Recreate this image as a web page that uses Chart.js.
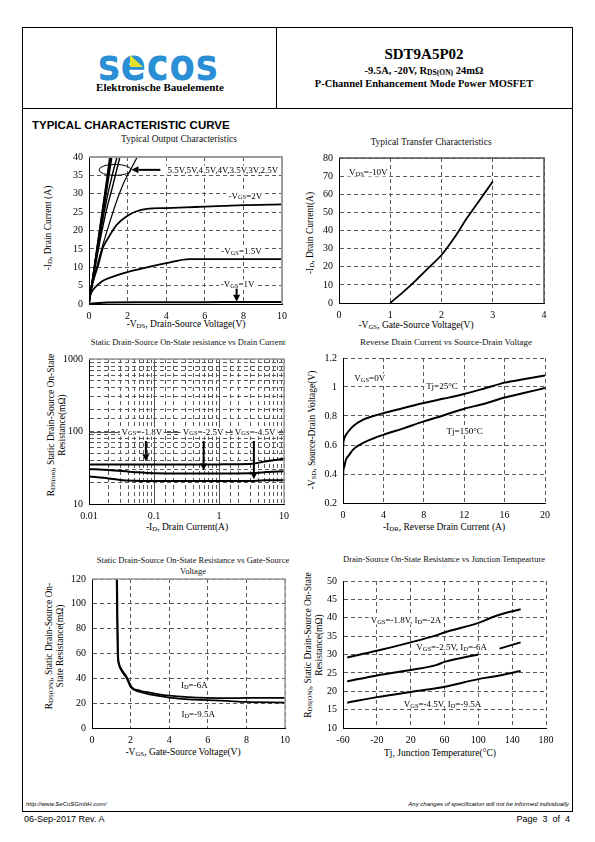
<!DOCTYPE html>
<html><head><meta charset="utf-8">
<script src="https://cdn.jsdelivr.net/npm/chart.js@4.4.1/dist/chart.umd.min.js"></script>
<style>
body{margin:0;width:595px;height:842px;position:relative;background:#fff;font-family:"Liberation Serif","Times New Roman",serif;color:#000;overflow:hidden}
.abs{position:absolute;white-space:nowrap;line-height:1}
.c{transform:translate(-50%,-50%)}
.rot{transform:translate(-50%,-50%) rotate(-90deg);text-align:center;line-height:1.2}
canvas{position:absolute}
sub{font-size:0.72em;vertical-align:baseline;position:relative;top:0.12em}
.t{font-size:9.5px;color:#111}
.al{font-size:9.5px}
.an{font-size:9px}
.bg{background:#fff;padding:0 2px}
.hr{position:absolute;background:#000}
</style></head><body>

<!-- page frame -->
<div class="hr" style="left:22px;top:27px;width:551px;height:1px"></div>
<div class="hr" style="left:22px;top:27px;width:1px;height:785px"></div>
<div class="hr" style="left:572px;top:27px;width:1px;height:785px"></div>
<div class="hr" style="left:22px;top:811px;width:551px;height:1px"></div>
<div class="hr" style="left:22px;top:108px;width:551px;height:1px"></div>
<div class="hr" style="left:276px;top:27px;width:1px;height:81px"></div>

<!-- header -->
<div class="abs" style="left:98px;top:43px;font:bold 44px 'DejaVu Sans';line-height:44px;color:#2b8fd5;letter-spacing:1px;transform:scaleX(0.84);transform-origin:left top">secos</div>
<div class="abs" style="left:130px;top:55px;width:13px;height:12px;background:#e4e02c;clip-path:polygon(0 0,100% 100%,0 100%)"></div>
<div class="abs c" style="left:160px;top:87px;font-weight:bold;font-size:11px">Elektronische Bauelemente</div>
<div class="abs c" style="left:424px;top:54px;font-weight:bold;font-size:15px">SDT9A5P02</div>
<div class="abs c" style="left:424px;top:71px;font-weight:bold;font-size:10.5px">-9.5A, -20V, R<sub>DS(ON)</sub> 24mΩ</div>
<div class="abs c" style="left:424px;top:84px;font-weight:bold;font-size:10.5px">P-Channel Enhancement Mode Power MOSFET</div>

<div class="abs" style="left:32px;top:119px;font:bold 11.5px 'Liberation Sans';">TYPICAL CHARACTERISTIC CURVE</div>

<!-- titles -->
<div class="abs c t" style="left:179px;top:140px">Typical Output Characteristics</div>
<div class="abs c t" style="left:431px;top:143px">Typical Transfer Characteristics</div>
<div class="abs c t" style="left:188px;top:342px;font-size:8.5px">Static Drain-Source On-State resistance vs Drain Current</div>
<div class="abs c t" style="left:446px;top:342px;font-size:9px">Reverse Drain Current vs Source-Drain Voltage</div>
<div class="abs c t" style="left:193px;top:566px;font-size:8.5px;text-align:center;line-height:1.25">Static Drain-Source On-State Resistance vs Gate-Source<br>Voltage</div>
<div class="abs c t" style="left:444px;top:559px;font-size:8.5px">Drain-Source On-State Resistance vs Junction Tempearture</div>

<!-- axis labels -->
<div class="abs rot al" style="left:49px;top:228px">-I<sub>D</sub>, Drain Current (A)</div>
<div class="abs c al" style="left:186px;top:325px">-V<sub>DS</sub>, Drain-Source Voltage(V)</div>
<div class="abs rot al" style="left:311px;top:233px">-I<sub>D</sub>, Drain Current(A)</div>
<div class="abs c al" style="left:416px;top:326px">-V<sub>GS</sub>, Gate-Source Voltage(V)</div>
<div class="abs rot al" style="left:57px;top:425px">R<sub>DS(on)</sub>, Static Drain-Source On-State<br>Resistance(mΩ)</div>
<div class="abs c al" style="left:187px;top:528px">-I<sub>D</sub>, Drain Current(A)</div>
<div class="abs rot al" style="left:313px;top:430px">-V<sub>SD</sub>, Source-Drain Voltage(V)</div>
<div class="abs c al" style="left:444px;top:528px">-I<sub>DR</sub>, Reverse Drain Current (A)</div>
<div class="abs rot al" style="left:55px;top:646px">R<sub>DS(ON)</sub>, Static Drain-Source On-<br>State Resistance(mΩ)</div>
<div class="abs c al" style="left:183px;top:753px">-V<sub>GS</sub>, Gate-Source Voltage(V)</div>
<div class="abs rot al" style="left:314px;top:645px">R<sub>DS(ON)</sub>, Static Drain-Source On-State<br>Resistance(mΩ)</div>
<div class="abs c al" style="left:440px;top:754px">Tj, Junction Temperature(°C)</div>

<!-- footer -->
<div class="abs" style="left:26px;top:801px;font:italic 6px 'Liberation Sans'">http://www.SeCoSGmbH.com/</div>
<div class="abs" style="right:25px;top:801px;font:italic 6px 'Liberation Sans'">Any changes of specification will not be informed individually.</div>
<div class="abs" style="left:24px;top:814px;font:9px 'Liberation Sans'">06-Sep-2017 Rev. A</div>
<div class="abs" style="right:25px;top:814px;font:9px 'Liberation Sans'">Page &nbsp;3 &nbsp;of &nbsp;4</div>

<script>
// ===== DATA =====
// Chart 1: Typical Output Characteristics (-VDS in V, -ID in A)
const outLabels = ['5.5V','5V','4.5V','4V','3.5V','3V','2.5V','2V','1.5V','1V'];
const out55_x = [0, 0.3, 0.6, 0.9, 1.08];           const out55_y = [0, 11, 22, 33, 40];
const out50_x = [0, 0.3, 0.6, 0.9, 1.11];           const out50_y = [0, 10.8, 21.6, 32.4, 40];
const out45_x = [0, 0.3, 0.6, 0.9, 1.14];           const out45_y = [0, 10.5, 21, 31.5, 40];
const out40_x = [0, 0.3, 0.6, 0.9, 1.18];           const out40_y = [0, 10.3, 20.5, 30.5, 40];
const out35_x = [0, 0.3, 0.6, 0.9, 1.2, 1.45];      const out35_y = [0.5, 10, 19.5, 28, 35, 40];
const out30_x = [0, 0.3, 0.6, 0.9, 1.2, 1.6];       const out30_y = [1, 9.5, 18, 25.5, 31.5, 40];
const out25_x = [0, 0.3, 0.6, 1.0, 1.4, 1.8, 2.1, 2.5]; const out25_y = [1.5, 8, 14, 21, 27.5, 33, 36, 40];
const out20_x = [0, 0.2, 0.5, 0.72, 1.0, 1.43, 2.0, 2.4, 3.0, 4, 5, 6, 7, 8, 10];
const out20_y = [2, 6, 11, 15.3, 18, 21.5, 24, 25.1, 25.9, 26.1, 26.3, 26.5, 26.7, 26.9, 27.1];
const out15_x = [0, 0.2, 0.45, 0.72, 1.43, 2.12, 3.16, 4.0, 5.2, 6, 8, 10];
const out15_y = [2, 3.8, 5.2, 6.3, 7.8, 8.9, 10.2, 11.1, 12.2, 12.2, 12.2, 12.2];
const out10_x = [0, 0.5, 1, 3, 6, 9, 10];           const out10_y = [0, 0.3, 0.4, 0.45, 0.5, 0.55, 0.55];
const outXTicks = [0, 10, 2];  const outYTicks = [0, 40, 5];

// Chart 2: Typical Transfer Characteristics (-VGS in V, -ID in A), VDS=-10V
const trVgs = [1, 1.25, 1.5, 1.75, 2, 2.25, 2.5, 2.75, 3];
const trId  = [0, 6, 12.5, 19.5, 26.5, 36, 47, 57, 67];
const trXTicks = [0, 4, 1];  const trYTicks = [0, 80, 10];

// Chart 3: RDS(on) vs Drain Current (log-log)
const rdsIdLabels = ['VGS=-1.8V', 'VGS=-2.5V', 'VGS=-4.5V'];
const rid18_x = [0.01, 0.03, 0.1, 0.3, 1, 3, 5, 10];           const rid18_y = [35, 35, 35, 35, 35.2, 35.5, 38.5, 42];
const rid25_x = [0.01, 0.02, 0.05, 0.1, 0.3, 1, 3, 5, 10];     const rid25_y = [30.5, 29.5, 27.5, 26.5, 26.3, 26.3, 26.5, 27.5, 28.3];
const rid45_x = [0.01, 0.02, 0.03, 0.05, 0.1, 0.3, 1, 3, 5, 10]; const rid45_y = [24, 22.5, 21.5, 21, 20.8, 20.7, 20.7, 20.8, 21.2, 21.3];
const ridXRange = [0.01, 10];  const ridYRange = [10, 1000];

// Chart 4: Reverse Drain Current vs Source-Drain Voltage
const sd25_x = [0, 0.03, 0.1, 0.3, 0.6, 1, 2, 3, 4, 6, 8, 10, 12, 14, 16, 18, 20];
const sd25_y = [0.56, 0.61, 0.64, 0.67, 0.7, 0.73, 0.775, 0.8, 0.82, 0.855, 0.89, 0.92, 0.952, 0.99, 1.03, 1.055, 1.08];
const sd150_x = [0, 0.03, 0.1, 0.3, 0.6, 1, 2, 3, 4, 6, 8, 10, 12, 14, 16, 18, 20];
const sd150_y = [0.34, 0.42, 0.445, 0.5, 0.53, 0.568, 0.614, 0.645, 0.67, 0.715, 0.763, 0.805, 0.85, 0.885, 0.928, 0.96, 0.993];
const sdXTicks = [0, 20, 4];  const sdYTicks = [0.2, 1.2, 0.2];

// Chart 5: RDS(on) vs Gate-Source Voltage
const rv6_x  = [1.3, 1.32, 1.35, 1.4, 1.5, 1.8, 2.05, 2.5, 3, 4, 5, 6, 7, 8, 10];
const rv6_y  = [120, 90, 60, 52, 48, 41, 33, 30, 28.5, 26, 24.8, 24.2, 24, 24.2, 24.3];
const rv95_x = [1.28, 1.3, 1.33, 1.38, 1.5, 1.8, 2.0, 2.5, 3, 4, 5, 6, 7, 8, 10];
const rv95_y = [120, 90, 60, 52, 47, 40, 33, 29, 27, 24.5, 23, 22.5, 21.8, 21, 20.5];
const rvXTicks = [0, 10, 2];  const rvYTicks = [0, 120, 20];

// Chart 6: RDS(on) vs Junction Temperature
const tj_x   = [-55, -20, 20, 50, 60, 100, 115, 125, 150];
const rt18_y = [29.2, 31, 33.3, 35.2, 36, 38.6, 40, 40.8, 42.3];
const rt25_y = [22.7, 24.3, 25.8, 27.1, 28, 30, null, 31.6, 33.3];
const rt45_y = [16.9, 18.4, 19.8, 20.8, 21.2, 23.3, 23.9, 24.3, 25.5];
const tjXTicks = [-60, 180, 40];  const tjYTicks = [10, 50, 5];

// ===== RENDERING =====
const FONT = '"Liberation Serif","Times New Roman",serif';
Chart.defaults.font.family = FONT;
Chart.defaults.font.size = 10;
Chart.defaults.color = '#000';

function pts(xs, ys){ return xs.map((x,i)=>({x:x, y:ys[i]})); }
function ds(xs, ys, w){ return {data: pts(xs,ys), borderColor:'#000', borderWidth: w||1.8, pointRadius:0, fill:false, cubicInterpolationMode:'monotone', spanGaps:false}; }
const gridOpt = {color:'#5a5a5a', lineWidth:1, drawTicks:false};
const borderOpt = {display:true, color:'#000', width:1, dash:[4,3]};
const fmt = v => String(+(+v).toFixed(3));
function linAxis(t){ return {type:'linear', min:t[0], max:t[1], ticks:{stepSize:t[2], autoSkip:false, maxRotation:0, padding:6, callback:fmt, font:{size:10}}, grid:Object.assign({},gridOpt), border:Object.assign({},borderOpt)}; }
function logAxis(r){ return {type:'logarithmic', min:r[0], max:r[1], ticks:{autoSkip:false, maxRotation:0, padding:6, font:{size:10}, callback:v=>{const l=Math.log10(v); return Math.abs(l-Math.round(l))<1e-6 ? fmt(v) : '';}}, grid:Object.assign({},gridOpt), border:Object.assign({},borderOpt)}; }

function frame(ctx, a, color, w){ ctx.save(); ctx.strokeStyle=color; ctx.lineWidth=w; ctx.setLineDash([]); ctx.beginPath(); ctx.moveTo(a.left,a.top); ctx.lineTo(a.right,a.top); ctx.lineTo(a.right,a.bottom); ctx.stroke(); ctx.restore(); }
function arrow(ctx, x1,y1,x2,y2){ const ang=Math.atan2(y2-y1,x2-x1), L=7, W=3.5; ctx.save(); ctx.strokeStyle='#000'; ctx.fillStyle='#000'; ctx.lineWidth=2; ctx.setLineDash([]);
  ctx.beginPath(); ctx.moveTo(x1,y1); ctx.lineTo(x2-L*Math.cos(ang), y2-L*Math.sin(ang)); ctx.stroke();
  ctx.beginPath(); ctx.moveTo(x2,y2); ctx.lineTo(x2-L*Math.cos(ang)+W*Math.sin(ang), y2-L*Math.sin(ang)-W*Math.cos(ang)); ctx.lineTo(x2-L*Math.cos(ang)-W*Math.sin(ang), y2-L*Math.sin(ang)+W*Math.cos(ang)); ctx.closePath(); ctx.fill(); ctx.restore(); }

function makeChart(area, datasets, xs, ys, extra){
  const PL=44, PT=12, PR=18, PB=24;
  const W=area.r-area.l+PL+PR, H=area.b-area.t+PT+PB;
  const cv=document.createElement('canvas');
  cv.width=W; cv.height=H; cv.style.width=W+'px'; cv.style.height=H+'px';
  const left=area.l-PL, top=area.t-PT;
  cv.style.left=left+'px'; cv.style.top=top+'px';
  document.body.appendChild(cv);
  xs.afterFit = s => { s.height=PB; s.paddingLeft=0; s.paddingRight=0; };
  ys.afterFit = s => { s.width=PL; s.paddingTop=0; s.paddingBottom=0; };
  const chart = new Chart(cv, {type:'line', data:{datasets:datasets},
    options:{responsive:false, animation:false, devicePixelRatio:1, events:[],
      layout:{padding:{left:0, top:PT, right:PR, bottom:0}},
      scales:{x:xs, y:ys}, plugins:{legend:{display:false}, tooltip:{enabled:false}}},
    plugins: extra ? [extra] : []});
  chart.$pos = {left:left, top:top};
  return chart;
}
function label(chart, xv, yv, html, opts){
  opts = opts || {};
  const d=document.createElement('div');
  d.className='abs an'+(opts.bg?' bg':''); d.innerHTML=html;
  d.style.left=(chart.$pos.left+chart.scales.x.getPixelForValue(xv))+'px';
  d.style.top=(chart.$pos.top+chart.scales.y.getPixelForValue(yv))+'px';
  d.style.transform = opts.left ? 'translate(0,-50%)' : 'translate(-50%,-50%)';
  document.body.appendChild(d);
}

// Chart 1
const c1 = makeChart({l:89,t:157,r:282,b:304}, [
  ds(out55_x,out55_y,1.6), ds(out50_x,out50_y,1.6), ds(out45_x,out45_y,1.6), ds(out40_x,out40_y,1.6),
  ds(out35_x,out35_y,1.4), ds(out30_x,out30_y,1.4), ds(out25_x,out25_y,1.2),
  ds(out20_x,out20_y,1.8), ds(out15_x,out15_y,1.8), ds(out10_x,out10_y,2)
], linAxis(outXTicks), linAxis(outYTicks), {id:'c1x', afterDraw(c){
  const ctx=c.ctx, X=c.scales.x, Y=c.scales.y;
  frame(ctx, c.chartArea, '#9c9c9c', 2);
  ctx.save(); ctx.strokeStyle='#000'; ctx.lineWidth=1; ctx.beginPath();
  ctx.ellipse(X.getPixelForValue(1.35), Y.getPixelForValue(36.5), 16, 5.5, 0, 0, 2*Math.PI); ctx.stroke(); ctx.restore();
  arrow(ctx, X.getPixelForValue(3.7), Y.getPixelForValue(36.5), X.getPixelForValue(2.2), Y.getPixelForValue(36.5));
  arrow(ctx, X.getPixelForValue(7.65), Y.getPixelForValue(4.3), X.getPixelForValue(7.65), Y.getPixelForValue(0.6));
}});
label(c1, 3.97, 36.5, outLabels.slice(0,7).join(','), {left:true, bg:true});
label(c1, 8.1, 29.5, '-V<sub>GS</sub>=2V', {bg:true});
label(c1, 7.9, 14.4, '-V<sub>GS</sub>=1.5V', {bg:true});
label(c1, 7.7, 5.4, '-V<sub>GS</sub>=1V', {bg:true});

// Chart 2
const c2 = makeChart({l:339,t:158,r:544,b:303}, [ds(trVgs,trId,1.8)], linAxis(trXTicks), linAxis(trYTicks),
  {id:'c2x', afterDraw(c){ frame(c.ctx, c.chartArea, '#555', 1.5); }});
label(c2, 0.57, 72.4, 'V<sub>DS</sub>=-10V', {bg:true});

// Chart 3
const c3 = makeChart({l:89,t:359,r:284,b:504}, [ds(rid18_x,rid18_y,2), ds(rid25_x,rid25_y,2), ds(rid45_x,rid45_y,2)],
  logAxis(ridXRange), logAxis(ridYRange), {id:'c3x', beforeDatasetsDraw(c){
    const ctx=c.ctx, X=c.scales.x, Y=c.scales.y, a=c.chartArea;
    ctx.save(); ctx.strokeStyle='#555'; ctx.lineWidth=1; ctx.beginPath();
    [0.1,1].forEach(v=>{const p=Math.round(X.getPixelForValue(v))+0.5; ctx.moveTo(p,a.top); ctx.lineTo(p,a.bottom);});
    const q=Math.round(Y.getPixelForValue(100))+0.5; ctx.moveTo(a.left,q); ctx.lineTo(a.right,q); ctx.stroke(); ctx.restore();
  }, afterDraw(c){
    const ctx=c.ctx, X=c.scales.x, Y=c.scales.y;
    frame(ctx, c.chartArea, '#9c9c9c', 1.5);
    arrow(ctx, X.getPixelForValue(0.075), Y.getPixelForValue(74), X.getPixelForValue(0.075), Y.getPixelForValue(39));
    arrow(ctx, X.getPixelForValue(0.58), Y.getPixelForValue(74), X.getPixelForValue(0.58), Y.getPixelForValue(29));
    arrow(ctx, X.getPixelForValue(3.44), Y.getPixelForValue(74), X.getPixelForValue(3.44), Y.getPixelForValue(22));
  }});
label(c3, 0.065, 100, 'V<sub>GS</sub>=-1.8V', {bg:true});
label(c3, 0.57, 100, 'V<sub>GS</sub>=-2.5V', {bg:true});
label(c3, 3.6, 100, 'V<sub>GS</sub>=-4.5V', {bg:true});

// Chart 4
const c4 = makeChart({l:343,t:358,r:545,b:503}, [ds(sd25_x,sd25_y,2), ds(sd150_x,sd150_y,2)], linAxis(sdXTicks), linAxis(sdYTicks));
label(c4, 2.65, 1.06, 'V<sub>GS</sub>=0V', {bg:true});
label(c4, 9.8, 1.01, 'Tj=25°C', {bg:true});
label(c4, 12.05, 0.694, 'Tj=150°C', {bg:true});

// Chart 5
const c5 = makeChart({l:92,t:579,r:285,b:728}, [ds(rv6_x,rv6_y,1.8), ds(rv95_x,rv95_y,1.8)], linAxis(rvXTicks), linAxis(rvYTicks),
  {id:'c5x', afterDraw(c){ frame(c.ctx, c.chartArea, '#9c9c9c', 1.5); }});
label(c5, 5.3, 34.5, 'I<sub>D</sub>=-6A', {bg:true});
label(c5, 5.5, 11, 'I<sub>D</sub>=-9.5A', {bg:true});

// Chart 6
const c6 = makeChart({l:343,t:581,r:546,b:728}, [ds(tj_x,rt18_y,2), ds(tj_x,rt25_y,2), ds(tj_x,rt45_y,2)], linAxis(tjXTicks), linAxis(tjYTicks));
label(c6, 14.5, 39.4, 'V<sub>GS</sub>=-1.8V, I<sub>D</sub>=-2A', {bg:true});
label(c6, 68.5, 32.1, 'V<sub>GS</sub>=-2.5V, I<sub>D</sub>=-6A', {bg:true});
label(c6, 57.6, 16.4, 'V<sub>GS</sub>=-4.5V, I<sub>D</sub>=-9.5A', {bg:true});
</script>
</body></html>
